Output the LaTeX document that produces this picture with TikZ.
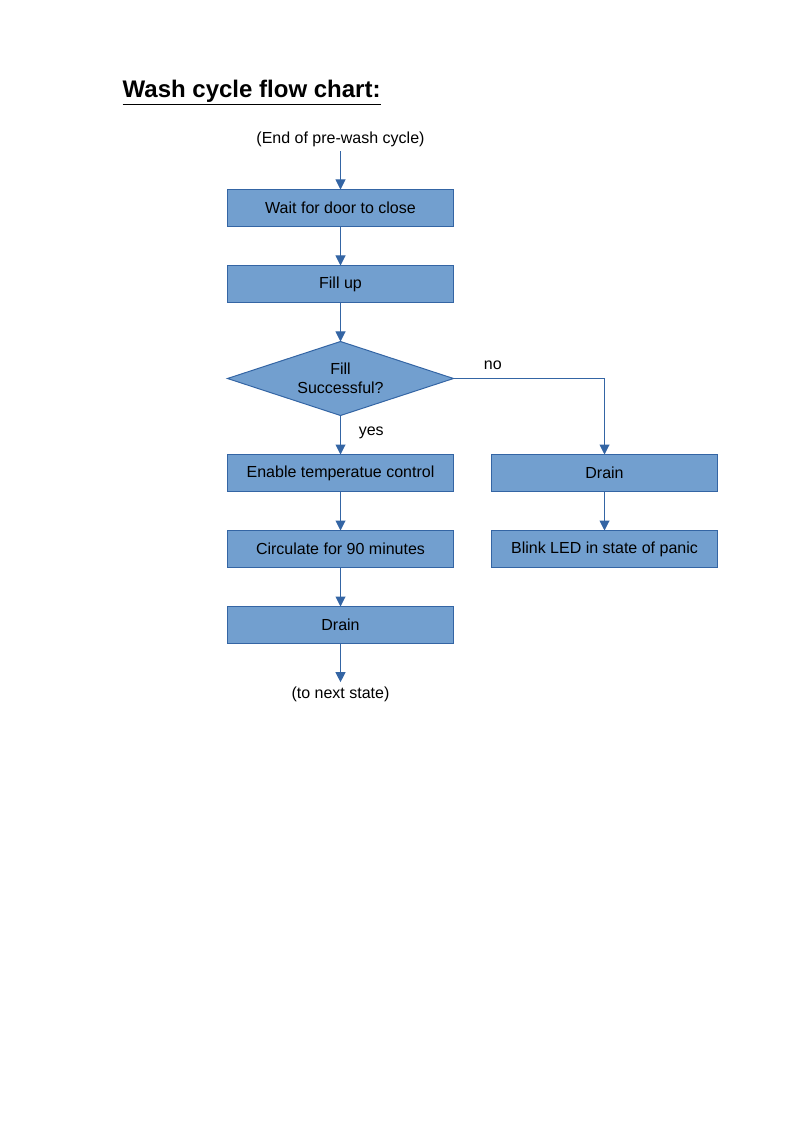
\documentclass[tikz,border=0pt]{standalone}
\usepackage{fontspec}
\setmainfont{Liberation Sans}
\usetikzlibrary{arrows.meta,positioning,shapes.geometric}

\definecolor{boxfill}{HTML}{729FCF}
\definecolor{boxline}{HTML}{3465A4}

\begin{document}
\begin{tikzpicture}[
  x=0.75bp, y=-0.75bp,
  font=\fontsize{12bp}{14bp}\selectfont,
  box/.style={draw=boxline, fill=boxfill, line width=0.75bp, outer sep=0pt, minimum width=169.5bp, minimum height=27.75bp, inner sep=2bp, align=center},
  decision/.style={draw=boxline, fill=boxfill, line width=0.75bp, outer sep=0pt, diamond, aspect=3.05, minimum width=169.5bp, minimum height=55.5bp, inner sep=0pt, align=center},
  arr/.style={-{Triangle[length=7.5bp,width=7.5bp]}, draw=boxline, line width=0.75bp},
  node distance=29.25bp
]
\useasboundingbox (0,0) rectangle (794,1123);

% Title
\node[anchor=west, font=\bfseries\fontsize{18bp}{21bp}\selectfont] (title) at (118,93) {\underline{Wash cycle flow chart:}};

% Nodes
\node[box] (wait) at (340.5,208) {Wait for door to close};
\node[above=28.5bp of wait] (start) {(End of pre-wash cycle)};
\node[box, below=of wait] (fill) {Fill up};
\node[decision, below=of fill] (dec) {Fill\\Successful?};
\node[box, below=of dec] (temp) {Enable temperatue control};
\node[box, below=of temp] (circ) {Circulate for 90 minutes};
\node[box, below=of circ] (drain) {Drain};
\node[below=29bp of drain] (next) {(to next state)};

% No branch
\node[box, right=28.5bp of temp] (drainb) {Drain};
\node[box, below=of drainb] (blink) {Blink LED in state of panic};

% Forward arrows
\draw[arr] (start) -- (wait);
\draw[arr] (wait) -- (fill);
\draw[arr] (fill) -- (dec);
\draw[arr] (dec) -- node[right=10bp, pos=0.45]{yes} (temp);
\draw[arr] (temp) -- (circ);
\draw[arr] (circ) -- (drain);
\draw[arr] (drain) -- (next);

% Panic branch
\draw[arr] (dec.east) -| node[above, pos=0.13, yshift=3bp]{no} (drainb.north);
\draw[arr] (drainb) -- (blink);

\end{tikzpicture}
\end{document}
